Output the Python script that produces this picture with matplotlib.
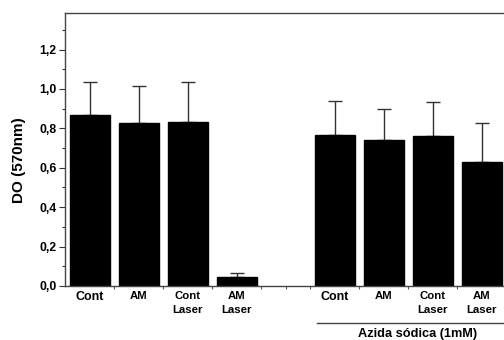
import matplotlib
matplotlib.use('Agg')
import matplotlib.pyplot as plt

# values
labels = ['Cont', 'AM', 'Cont\nLaser', 'AM\nLaser',
          'Cont', 'AM', 'Cont\nLaser', 'AM\nLaser']
positions = [0, 1, 2, 3, 5, 6, 7, 8]
means = [0.868, 0.826, 0.832, 0.044, 0.766, 0.739, 0.763, 0.629]
errors = [0.169, 0.191, 0.202, 0.020, 0.171, 0.161, 0.169, 0.200]
yticks = [0.0, 0.2, 0.4, 0.6, 0.8, 1.0, 1.2]
ytick_labels = ['0,0', '0,2', '0,4', '0,6', '0,8', '1,0', '1,2']
group_label = 'Azida sódica (1mM)'

plt.rcParams['font.family'] = ['Liberation Sans', 'DejaVu Sans']
plt.rcParams['font.weight'] = 'bold'

fig = plt.figure(figsize=(5.04, 3.4), dpi=100)
ax = fig.add_axes([0.129, 0.159, 0.871, 0.803])

ax.bar(positions, means, width=0.8, color='black', edgecolor='black', zorder=2)
ax.errorbar(positions, means, yerr=[[0] * len(errors), errors], fmt='none',
            ecolor='#333333', elinewidth=1.0, capsize=4.7, capthick=1.0, zorder=1)

ax.set_xlim(-0.51, 8.45)
ax.set_ylim(0, 1.386)

ax.set_yticks(yticks)
ax.set_yticklabels(ytick_labels, fontsize=8.8, fontweight='bold')
ax.set_yticks([0.1, 0.3, 0.5, 0.7, 0.9, 1.1, 1.3], minor=True)

ax.set_xticks(positions)
ax.set_xticklabels(labels, fontsize=8.2, fontweight='bold', linespacing=1.4)
for t in ax.get_xticklabels():
    if t.get_text() == 'Cont':
        t.set_fontsize(9)
ax.set_xticks([0.5, 1.5, 2.5, 3.5, 4.0, 4.5, 5.5, 6.5, 7.5], minor=True)
ax.tick_params(axis='x', which='major', length=0, pad=4)
ax.tick_params(axis='x', which='minor', length=2, width=0.8, color='#555555')
ax.tick_params(axis='y', which='major', length=4, width=0.8, color='#333333', pad=2)
ax.tick_params(axis='y', which='minor', length=2.5, width=0.8, color='#333333')

ax.set_ylabel('DO (570nm)', fontsize=11, fontweight='bold')
ax.yaxis.set_label_coords(-0.089, 0.46)

ax.spines['right'].set_visible(False)
for s in ['left', 'top', 'bottom']:
    ax.spines[s].set_linewidth(1.0)
    ax.spines[s].set_color('#444444')

# group bracket under the sodium azide bars
ax.plot([4.63, 8.45], [-0.188, -0.188], color='#444444', lw=1.0, clip_on=False)
ax.text(6.68, -0.244, group_label, ha='center', va='center',
        fontsize=9.2, fontweight='bold', clip_on=False)

fig.savefig('out.png', dpi=100)
